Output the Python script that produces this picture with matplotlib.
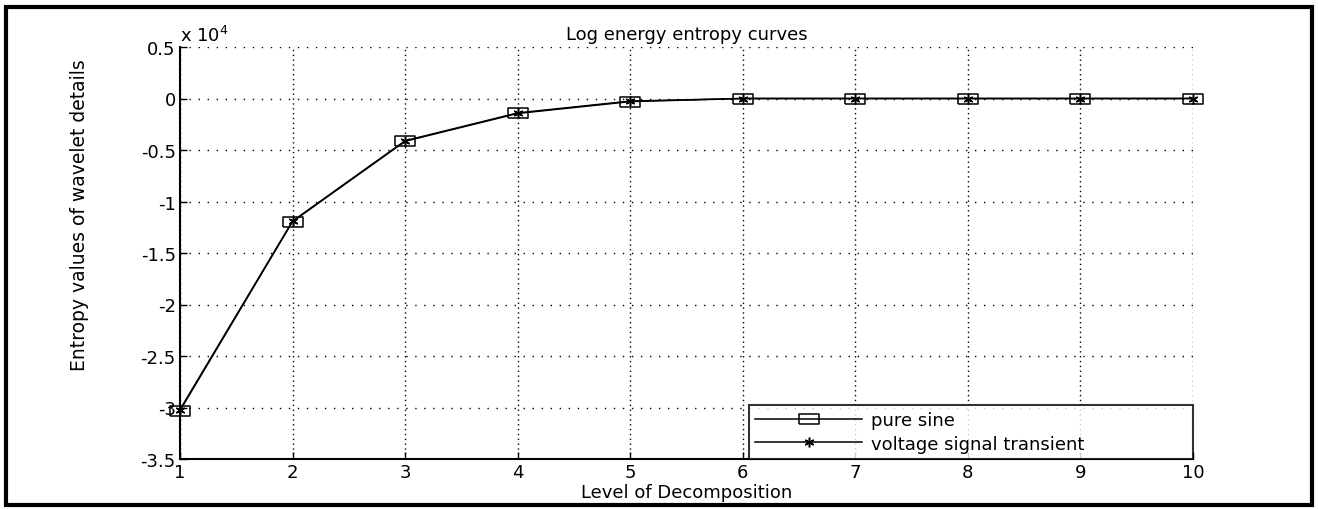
"""Log energy entropy curves of wavelet details (MATLAB-style figure)."""

import matplotlib
matplotlib.use("Agg")
import matplotlib.pyplot as plt
from matplotlib.patches import Rectangle

# Data (entropy values in units of 1e4)
levels = [1, 2, 3, 4, 5, 6, 7, 8, 9, 10]
pure_sine = [-3.03, -1.195, -0.415, -0.145, -0.03, 0.0, 0.0, 0.0, 0.0, 0.0]
transient = [-3.02, -1.19, -0.41, -0.14, -0.025, 0.0, 0.0, 0.0, 0.0, 0.0]

yticks = [0.5, 0, -0.5, -1, -1.5, -2, -2.5, -3, -3.5]
yticklabels = ['0.5', '0', '-0.5', '-1', '-1.5', '-2', '-2.5', '-3', '-3.5']

plt.rcParams['font.family'] = ['DejaVu Sans']

fig = plt.figure(figsize=(13.18, 5.10), dpi=100)
ax = fig.add_axes([180 / 1318, 1 - 460 / 510, (1193 - 180) / 1318, (460 - 48) / 510])

# wide, flat square marker like the original
rect_marker = [(-1, -0.5), (1, -0.5), (1, 0.5), (-1, 0.5), (-1, -0.5)]

ax.plot(levels, pure_sine, color='black', linewidth=1.1, marker=rect_marker,
        markersize=14, markerfacecolor='none', markeredgecolor='black',
        markeredgewidth=1.1, label='pure sine', clip_on=False, zorder=3)
ax.plot(levels, transient, color='black', linewidth=1.1, marker=(6, 2, 0),
        markersize=7, markeredgewidth=1.1, label='voltage signal transient',
        clip_on=False, zorder=3)

ax.set_xlim(1, 10)
ax.set_ylim(-3.5, 0.5)
ax.set_xticks(levels)
ax.set_xticklabels([str(v) for v in levels], fontsize=13)
ax.set_yticks(yticks)
ax.set_yticklabels(yticklabels, fontsize=13)
ax.tick_params(direction='in', length=5, width=1, pad=3)

# dotted grid, horizontal lines sparser than vertical ones (stretched image)
ax.xaxis.grid(True, linestyle=(0, (1, 2.5)), color='black', linewidth=1.0)
ax.yaxis.grid(True, linestyle=(0, (1, 5.5)), color='black', linewidth=1.0)
for side in ['top', 'right']:
    ax.spines[side].set_visible(False)
for side in ['left', 'bottom']:
    ax.spines[side].set_linewidth(1.5)

ax.set_title('Log energy entropy curves', fontsize=13, pad=6)
ax.set_xlabel('Level of Decomposition', fontsize=13, labelpad=1)
ax.set_ylabel('Entropy values of wavelet details', fontsize=13.5)
ax.yaxis.set_label_coords(-0.09, 0.595)

ax.text(0, 1.004, r'x 10$^4$', transform=ax.transAxes, fontsize=13,
        ha='left', va='bottom')

leg = ax.legend(loc='lower left', fontsize=13, frameon=True, fancybox=False,
                borderaxespad=0, handlelength=5.9, borderpad=0.35,
                labelspacing=0.3, handletextpad=0.5, mode='expand',
                bbox_to_anchor=((749 - 180) / 1013, 0.0, (1193 - 749) / 1013, 0.12))
leg.get_frame().set_edgecolor('black')
leg.get_frame().set_linewidth(1.5)

# outer frame around the whole figure
fig.patches.append(Rectangle((6 / 1318, 4 / 510), 1 - 12 / 1318, 1 - 12 / 510,
                             transform=fig.transFigure, fill=False,
                             edgecolor='black', linewidth=3))

fig.savefig('out.png', dpi=100)
